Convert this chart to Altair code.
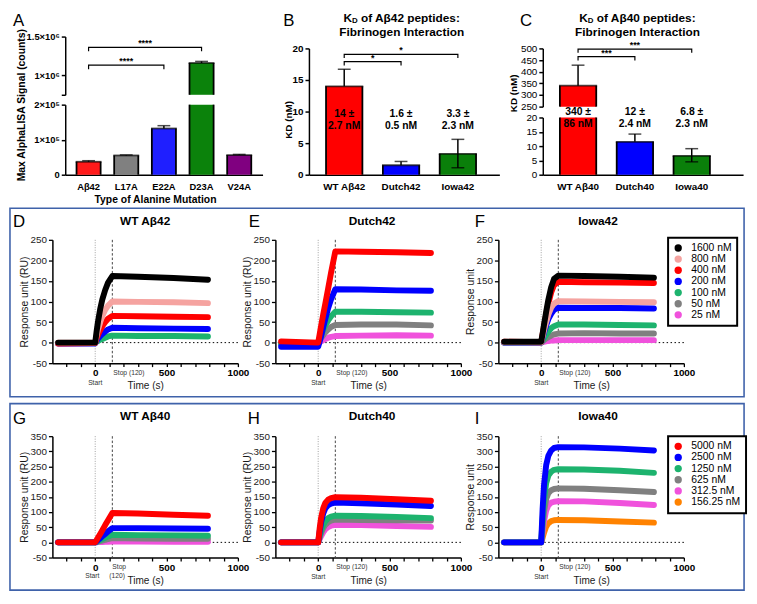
import altair as alt
import pandas as pd

FONT = "Liberation Sans"
BOX_BLUE = "#3f62aa"

# ---------------- Panel A : alanine scan ----------------
a_cats = ["Aβ42", "L17A", "E22A", "D23A", "V24A"]
a_vals = [37000, 55000, 132000, 1160000, 56000]
a_hi = [40000, 56500, 140000, 1180000, 58000]
a_cols = ["#ff1a1a", "#808080", "#1f1fff", "#0b820b", "#800080"]
a_br_from = ["Aβ42", "Aβ42"]
a_br_to = ["D23A", "E22A"]
a_br_top = [1360000, 1131000]
a_br_leg = [1310000, 1080000]
a_br_mark = ["****", "****"]

# ---------------- Panel B : KD Abeta42 ----------------
b_cats = ["WT Aβ42", "Dutch42", "Iowa42"]
b_vals = [14.0, 1.5, 3.3]
b_lo = [14.0, 1.5, 1.1]
b_hi = [16.7, 2.1, 5.6]
b_cols = ["#ff0000", "#0000ff", "#0a7f0a"]
b_lab1 = ["14 ±", "1.6 ±", "3.3 ±"]
b_lab2 = ["2.7 nM", "0.5 nM", "2.3  nM"]
b_br_from = ["WT Aβ42", "WT Aβ42"]
b_br_to = ["Iowa42", "Dutch42"]
b_br_top = [19.05, 17.9]
b_br_leg = [18.5, 17.3]
b_br_mark = ["*", "*"]

# ---------------- Panel C : KD Abeta40 ----------------
c_cats = ["WT Aβ40", "Dutch40", "Iowa40"]
c_vals = [340.0, 11.5, 6.6]
c_lo = [340.0, 11.5, 4.5]
c_hi = [428.0, 14.2, 9.1]
c_cols = ["#ff0000", "#0000ff", "#0a7f0a"]
c_lab1 = ["340 ±", "12 ±", "6.8 ±"]
c_lab2 = ["86 nM", "2.4 nM", "2.3  nM"]
c_br_from = ["WT Aβ40", "WT Aβ40"]
c_br_to = ["Iowa40", "Dutch40"]
c_br_top = [497, 465]
c_br_leg = [481, 448]
c_br_mark = ["***", "***"]

# ---------------- Sensorgrams ----------------
t_pts = [-260, 0, 10, 20, 35, 50, 70, 90, 120, 300, 550, 790]

c42_names = ["1600 nM", "800 nM", "400 nM", "200 nM", "100 nM", "50 nM", "25 nM"]
c42_colors = ["#000000", "#f5a3a0", "#ff0000", "#0000ff", "#1db36e", "#808080", "#f052dc"]
c40_names = ["5000 nM", "2500 nM", "1250 nM", "625 nM", "312.5 nM", "156.25 nM"]
c40_colors = ["#ff0000", "#0000ff", "#1db36e", "#808080", "#f052dc", "#ff8200"]

wt42 = {
    "1600 nM": [0, 0, 28, 52, 82, 105, 128, 146, 162, 160, 157, 153],
    "800 nM": [0, 0, 17, 32, 50, 65, 80, 90, 100, 99, 98, 96],
    "400 nM": [-2, -1, 10, 19, 30, 40, 50, 58, 65, 64, 63, 62],
    "200 nM": [-2, -2, 5, 10, 16, 21, 27, 32, 36, 35, 34, 33],
    "100 nM": [-1, -1, 2, 4, 7, 9, 12, 15, 17, 16, 16, 15],
}
dutch42 = {
    "400 nM": [3, 0, 20, 40, 68, 95, 132, 170, 222, 221, 220, 218],
    "200 nM": [-10, -10, 2, 15, 37, 58, 84, 105, 130, 129, 127, 126],
    "100 nM": [-3, -3, 8, 18, 31, 42, 54, 64, 75, 75, 74, 73],
    "50 nM": [-3, -3, 5, 11, 18, 25, 32, 38, 43, 44, 44, 42],
    "25 nM": [-3, -3, 0, 3, 6, 9, 12, 14, 16, 17, 18, 17],
}
iowa42 = {
    "1600 nM": [2, 2, 22, 44, 75, 104, 135, 155, 163, 162, 160, 158],
    "800 nM": [1, 1, 15, 30, 50, 68, 85, 95, 101, 100, 99, 98],
    "400 nM": [2, 1, 20, 40, 68, 95, 122, 140, 148, 147, 146, 145],
    "200 nM": [0, 0, 12, 25, 42, 57, 70, 80, 85, 84, 84, 83],
    "100 nM": [0, 0, 5, 11, 19, 27, 35, 40, 44, 44, 43, 42],
    "50 nM": [0, 0, 3, 6, 10, 13, 17, 20, 22, 23, 22, 22],
    "25 nM": [0, 0, 1, 2, 3, 4, 5, 5, 6, 6, 6, 6],
}
wt40 = {
    "5000 nM": [0, 0, 8, 16, 28, 40, 57, 73, 97, 95, 91, 88],
    "2500 nM": [0, 0, 4, 8, 14, 20, 28, 36, 47, 47, 46, 45],
    "1250 nM": [0, 0, 2, 4, 8, 11, 15, 19, 25, 24, 23, 22],
    "625 nM": [0, 0, 1, 2, 4, 6, 8, 11, 14, 13, 12, 12],
    "312.5 nM": [0, 0, 0, 1, 1, 1, 2, 2, 3, 3, 2, 2],
}
dutch40 = {
    "5000 nM": [0, 0, 45, 80, 112, 130, 141, 146, 149, 147, 142, 137],
    "2500 nM": [0, 0, 35, 65, 95, 112, 123, 128, 131, 129, 125, 120],
    "1250 nM": [0, 0, 20, 38, 57, 70, 80, 85, 88, 87, 84, 80],
    "625 nM": [0, 0, 15, 30, 47, 58, 67, 72, 75, 74, 73, 72],
    "312.5 nM": [0, 0, 10, 20, 33, 43, 51, 55, 58, 57, 54, 51],
}
iowa40 = {
    "2500 nM": [0, 0, 110, 190, 255, 285, 303, 311, 314, 313, 309, 303],
    "1250 nM": [0, 0, 75, 140, 195, 220, 233, 239, 241, 240, 236, 229],
    "625 nM": [0, 0, 50, 100, 143, 162, 172, 176, 178, 177, 172, 166],
    "312.5 nM": [0, 0, 35, 70, 105, 122, 131, 134, 136, 135, 130, 123],
    "156.25 nM": [0, 0, 15, 32, 52, 63, 70, 73, 74, 73, 69, 65],
}

# ======================================================================
PI = 0.36
EDGE = 1.8


def txt(s, x, y, size, weight="normal", align="center", baseline="middle", color="black"):
    return (alt.Chart(pd.DataFrame({"s": [s]}))
            .mark_text(fontSize=size, fontWeight=weight, align=align, baseline=baseline, color=color)
            .encode(text="s:N", x=alt.value(x), y=alt.value(y)))


def y_axis(values, expr, offset, bold, fs, title=None, tx=None, ty=None, tfs=10.5):
    d = dict(values=values, labelExpr=expr, offset=offset, orient="left", grid=False,
             domainColor="black", domainWidth=1.5, tickColor="black", tickWidth=1.5, tickSize=4,
             labelColor="black", labelFontSize=fs, labelFontWeight="bold" if bold else "normal",
             labelPadding=2, labelFlush=False, labelOverlap=False, labelBound=False)
    if title:
        d.update(title=title, titleX=tx, titleY=ty, titleBaseline="middle", titleAlign="center",
                 titleFontSize=tfs, titleFontWeight="bold", titleColor="black")
    else:
        d["title"] = None
    return alt.Axis(**d)


def x_band(cats, rng, fs, po, align, title=None, tx=None, ty=None):
    d = dict(labelAngle=0, ticks=False, tickSize=0, labelPadding=7, labelFontSize=fs,
             labelFontWeight="bold", labelColor="black", domainColor="black", domainWidth=1.5,
             grid=False, labelLimit=200)
    if title:
        d.update(title=title, titleX=tx, titleY=ty, titleBaseline="middle", titleFontSize=10.5,
                 titleFontWeight="bold", titleColor="black")
    else:
        d["title"] = None
    scale = alt.Scale(domain=cats, range=rng, paddingInner=PI, paddingOuter=po, align=align)
    axis = alt.Axis(**d)

    def f(bp=None):
        if bp is None:
            return alt.X("cat:N", scale=scale, axis=axis)
        return alt.X("cat:N", scale=scale, axis=axis, bandPosition=bp)
    step = (rng[1] - rng[0]) / (len(cats) - PI + 2 * po)
    return f, step, step * (1 - PI)


def y_maker(dom, rng, axis):
    def f(field):
        return alt.Y(f"{field}:Q", scale=alt.Scale(domain=dom, range=rng, clamp=True, nice=False, zero=False),
                     axis=axis)
    return f


def bar_frames(cats, vals, lo, hi, cols):
    df = pd.DataFrame({"cat": cats, "val": vals, "lo": lo, "hi": hi, "col": cols, "base": [0] * len(cats)})
    caps = []
    for c, v, l, h in zip(cats, vals, lo, hi):
        caps.append({"cat": c, "cy": h})
        if l < v:
            caps.append({"cat": c, "cy": l})
    return df, pd.DataFrame(caps)


def bar_group(df, capdf, Xf, bw, yenc, bfilt=None, topfilt=None, efilt=None, cfilt=None):
    X = Xf()
    bars = alt.Chart(df).mark_bar(strokeWidth=0).encode(
        x=X, y=yenc("val"), y2=alt.Y2("base"), color=alt.Color("col:N", scale=None))
    left = alt.Chart(df).mark_rule(color="black", strokeWidth=EDGE).encode(
        x=Xf(0), y=yenc("val"), y2=alt.Y2("base"))
    right = alt.Chart(df).mark_rule(color="black", strokeWidth=EDGE).encode(
        x=Xf(1), y=yenc("val"), y2=alt.Y2("base"))
    top = alt.Chart(df).mark_tick(color="black", thickness=EDGE, size=bw + EDGE).encode(x=X, y=yenc("val"))
    err = alt.Chart(df).mark_rule(color="black", strokeWidth=1.5).encode(x=X, y=yenc("lo"), y2=alt.Y2("hi"))
    cap = alt.Chart(capdf).mark_tick(color="black", thickness=1.5, size=13).encode(x=X, y=yenc("cy"))
    if bfilt:
        bars = bars.transform_filter(bfilt)
        left = left.transform_filter(bfilt)
        right = right.transform_filter(bfilt)
    if topfilt:
        top = top.transform_filter(topfilt)
    if efilt:
        err = err.transform_filter(efilt)
    if cfilt:
        cap = cap.transform_filter(cfilt)
    return [bars, err, left, right, top, cap]


def brackets(cats, step, Xf, yenc, frm, to, top, leg, marks):
    X = Xf()
    rows = []
    for i, (f, t, yt, yl) in enumerate(zip(frm, to, top, leg)):
        rows += [dict(b=i, cat=f, y=yl, o=0), dict(b=i, cat=f, y=yt, o=1),
                 dict(b=i, cat=t, y=yt, o=2), dict(b=i, cat=t, y=yl, o=3)]
    lines = alt.Chart(pd.DataFrame(rows)).mark_line(color="black", strokeWidth=1.2).encode(
        x=X, y=yenc("y"), detail="b:N", order="o:Q")
    out = [lines]
    for f, t, yt, m in zip(frm, to, top, marks):
        i1, i2 = cats.index(f), cats.index(t)
        mid = (i1 + i2) / 2
        base = int(mid)
        dx = (mid - base) * step
        out.append(alt.Chart(pd.DataFrame({"cat": [cats[base]], "y": [yt], "m": [m]}))
                   .mark_text(fontSize=9, fontWeight="bold", baseline="alphabetic", dx=dx, dy=-1)
                   .encode(x=X, y=yenc("y"), text="m:N"))
    return out


def kd_title(cx, y1, y2, pep):
    fs = 12
    left = cx - 59
    return [
        txt("K", left, y1, fs, "bold", align="left"),
        txt("D", left + 8.7, y1 + 3, 8.0, "bold", align="left"),
        txt(f"of {pep} peptides:", left + 17.8, y1, fs, "bold", align="left"),
        txt("Fibrinogen Interaction", cx, y2, fs, "bold"),
    ]


LET_Y = -15.5
T1, T2 = -19, -4.8

# ---------------- Panel A ----------------
A_R = [13, 213]
XAf, stepA, bwA = x_band(a_cats, A_R, 9.5, 0.3, 0.5, "Type of Alanine Mutation", 104, 25)
dfA, capA = bar_frames(a_cats, a_vals, a_vals, a_hi, a_cols)
yAU = y_maker([750000, 1500000], [59, 0],
              y_axis([750000, 1000000, 1500000],
                     "datum.value == 1500000 ? '1.5×10⁶' : datum.value == 1000000 ? '1×10⁶' : ''",
                     -13, True, 9.5))
yAL = y_maker([0, 200000], [140, 69],
              y_axis([0, 100000, 200000],
                     "datum.value == 0 ? '0' : datum.value == 100000 ? '1×10⁵' : '2×10⁵'",
                     -13, True, 9.5, "Max AlphaLISA Signal (counts)", -44, 69))
upperA = alt.layer(*(bar_group(dfA, capA, XAf, bwA, yAU, "datum.val > 750000", "datum.val > 750000",
                               "datum.hi > 750000", "datum.cy > 750000")
                     + brackets(a_cats, stepA, XAf, yAU, a_br_from, a_br_to, a_br_top, a_br_leg, a_br_mark)))
lowerA = alt.layer(*bar_group(dfA, capA, XAf, bwA, yAL, None, "datum.val < 200000",
                              "datum.hi < 200000", "datum.cy < 200000"))
panelA = alt.layer(upperA, lowerA, txt("A", -40, LET_Y, 17, align="left")).resolve_scale(
    y="independent").properties(width=224, height=140)

# ---------------- Panel B ----------------
B_R = [34, 227]
XBf, stepB, bwB = x_band(b_cats, B_R, 10, 0.3555, 0.423)
dfB, capB = bar_frames(b_cats, b_vals, b_lo, b_hi, b_cols)
dfB["l1"] = b_lab1
dfB["l2"] = b_lab2
yB = y_maker([0, 20], [140, 12],
             y_axis([0, 5, 10, 15, 20], "'' + datum.value", -34, True, 10, "KD (nM)", -21, 84, 10))
labB = [alt.Chart(dfB).mark_text(fontSize=10.5, fontWeight="bold").encode(x=XBf(), y=alt.value(79), text="l1:N"),
        alt.Chart(dfB).mark_text(fontSize=10.5, fontWeight="bold").encode(x=XBf(), y=alt.value(91), text="l2:N")]
panelB = alt.layer(*(bar_group(dfB, capB, XBf, bwB, yB)
                     + brackets(b_cats, stepB, XBf, yB, b_br_from, b_br_to, b_br_top, b_br_leg, b_br_mark)
                     + labB + kd_title(128, T1, T2, "Aβ42")
                     + [txt("B", 8, LET_Y, 17, align="left")])).properties(width=224, height=140)

# ---------------- Panel C ----------------
C_R = [45, 248]
XCf, stepC, bwC = x_band(c_cats, C_R, 10, 0.442, 0.34)
dfC, capC = bar_frames(c_cats, c_vals, c_lo, c_hi, c_cols)
dfC["l1"] = c_lab1
dfC["l2"] = c_lab2
yCU = y_maker([250, 500], [71, 12],
              y_axis([250, 300, 350, 400, 450, 500], "'' + datum.value", -45, False, 10,
                     "KD (nM)", -30, 57, 10))
yCL = y_maker([0, 20], [140, 82],
              y_axis([0, 5, 10, 15, 20], "'' + datum.value", -45, False, 10))
upperC = alt.layer(*(bar_group(dfC, capC, XCf, bwC, yCU, "datum.val > 250", "datum.val > 250",
                               "datum.hi > 250", "datum.cy > 250")
                     + brackets(c_cats, stepC, XCf, yCU, c_br_from, c_br_to, c_br_top, c_br_leg, c_br_mark)))
lowerC = alt.layer(*bar_group(dfC, capC, XCf, bwC, yCL, None, "datum.val < 20", "datum.hi < 20", "datum.cy < 20"))
labC = [alt.Chart(dfC).mark_text(fontSize=10.5, fontWeight="bold").encode(x=XCf(), y=alt.value(76.5), text="l1:N"),
        alt.Chart(dfC).mark_text(fontSize=10.5, fontWeight="bold").encode(x=XCf(), y=alt.value(89), text="l2:N")]
panelC = alt.layer(upperC, lowerC, *labC, *kd_title(141, T1, T2, "Aβ40"),
                   txt("C", 22, LET_Y, 17, align="left")).resolve_scale(
    y="independent").properties(width=224, height=140)

# ---------------- Sensorgram panels ----------------
SW = 188


def sensor_panel(series, names, colors, title, title_x, letter, letter_x, ymax, ylabel,
                 plot_h, pad, stacked_stop=False, legend_y=None, box=None):
    order = [n for n in names if n in series][::-1]
    rows = []
    for n in order:
        col = colors[names.index(n)]
        for t, v in zip(t_pts, series[n]):
            rows.append({"t": t, "ru": v, "s": n, "col": col})
    df = pd.DataFrame(rows)
    bottom = pad + plot_h
    xax = alt.Axis(values=list(range(-200, 1001, 100)),
                   labelExpr="(datum.value == 0 || datum.value == 500 || datum.value == 1000) ? '' + datum.value : ''",
                   title="Time (s)", titleX=SW / 2, titleY=23, titleBaseline="middle", titleFontSize=10.2,
                   titleFontWeight="normal", titleColor="#1a1a1a", labelFontSize=10, labelFontWeight="bold",
                   labelColor="black", labelPadding=1.5, labelFlush=False, labelOverlap=False, labelBound=False,
                   tickSize=3.5, tickWidth=1.3, tickColor="black", domainColor="black", domainWidth=1.5,
                   grid=False)
    yax = alt.Axis(values=list(range(-50, ymax + 1, 50)), labelExpr="'' + datum.value", title=ylabel,
                   titleX=-28, titleY=pad + plot_h / 2, titleBaseline="middle", titleAlign="center",
                   titleFontSize=10.5, titleFontWeight="normal", titleColor="#1a1a1a", labelFontSize=10,
                   labelColor="#222222", labelPadding=2, labelFlush=False, labelOverlap=False,
                   labelBound=False, tickSize=4, tickWidth=1.3, tickColor="black", domainColor="black",
                   domainWidth=1.5, grid=False)
    X = alt.X("t:Q", scale=alt.Scale(domain=[-300, 1000], range=[0, SW], nice=False, zero=False), axis=xax)
    Y = alt.Y("ru:Q", scale=alt.Scale(domain=[-50, ymax], range=[bottom, pad], nice=False, zero=False),
              axis=yax)
    layers = []
    if box is not None:
        layers.append(alt.Chart(pd.DataFrame({"k": [0]})).mark_rect(
            fillOpacity=0, stroke=BOX_BLUE, strokeWidth=1.6).encode(
            x=alt.value(box[0]), x2=alt.value(box[1]), y=alt.value(box[2]), y2=alt.value(box[3])))
    layers.append(alt.Chart(pd.DataFrame({"ru": [0]})).mark_rule(
        color="black", strokeDash=[1.5, 2.5], strokeWidth=1).encode(y=Y))
    layers.append(alt.Chart(pd.DataFrame({"t": [0], "ru": [ymax], "ru2": [-50]})).mark_rule(
        color="#a0a0a0", strokeDash=[1, 1.5], strokeWidth=1).encode(x=X, y=Y, y2=alt.Y2("ru2")))
    layers.append(alt.Chart(pd.DataFrame({"t": [120], "ru": [ymax], "ru2": [-50]})).mark_rule(
        color="#444444", strokeDash=[2.5, 2], strokeWidth=1).encode(x=X, y=Y, y2=alt.Y2("ru2")))
    layers.append(alt.Chart(df).mark_line(strokeWidth=6, strokeCap="round", strokeJoin="round").encode(
        x=X, y=Y, color=alt.Color("col:N", scale=None), detail="s:N"))
    if stacked_stop:
        layers.append(alt.Chart(pd.DataFrame({"t": [120], "s": ["Stop"]})).mark_text(
            fontSize=6.8, align="left", baseline="middle", color="#333333").encode(
            x=X, y=alt.value(bottom + 10), text="s:N"))
        layers.append(alt.Chart(pd.DataFrame({"t": [120], "s": ["(120)"]})).mark_text(
            fontSize=6.8, align="left", baseline="middle", color="#333333", dx=-3).encode(
            x=X, y=alt.value(bottom + 19), text="s:N"))
        layers.append(alt.Chart(pd.DataFrame({"t": [0], "s": ["Start"]})).mark_text(
            fontSize=6.8, align="center", baseline="middle", color="#333333", dx=-3).encode(
            x=X, y=alt.value(bottom + 19), text="s:N"))
    else:
        layers.append(alt.Chart(pd.DataFrame({"t": [120], "s": ["Stop (120)"]})).mark_text(
            fontSize=6.8, align="left", baseline="middle", color="#333333", dx=1).encode(
            x=X, y=alt.value(bottom + 10), text="s:N"))
        layers.append(alt.Chart(pd.DataFrame({"t": [0], "s": ["Start"]})).mark_text(
            fontSize=6.8, align="center", baseline="middle", color="#333333").encode(
            x=X, y=alt.value(bottom + 20), text="s:N"))
    layers.append(txt(title, title_x, pad - 19 if pad == 0 else pad - 20, 12, "bold"))
    layers.append(txt(letter, letter_x, pad - 18 if pad == 0 else pad - 17, 17, align="left"))
    if legend_y is not None:
        layers.append(alt.Chart(df).mark_circle(opacity=1).encode(
            x=X, y=Y,
            fill=alt.Fill("s:N", scale=alt.Scale(domain=names, range=colors),
                          legend=alt.Legend(orient="none", legendX=172, legendY=legend_y, title=None,
                                            fillColor="white", strokeColor="black", padding=5,
                                            symbolType="circle", symbolSize=55, symbolStrokeWidth=0,
                                            symbolOpacity=1, labelFontSize=10.5, labelColor="black",
                                            labelOffset=8, rowPadding=0.3))).transform_filter("false"))
    return alt.layer(*layers).properties(width=SW, height=bottom)


H2, H3, PAD3 = 125, 123, 8
panelD = sensor_panel(wt42, c42_names, c42_colors, "WT Aβ42", 94, "D", -40, 250, "Response unit (RU)",
                      H2, 0, box=(-43, 701, -32, H2 + 34))
panelE = sensor_panel(dutch42, c42_names, c42_colors, "Dutch42", 98, "E", -27, 250, "Response unit (RU)",
                      H2, 0)
panelF = sensor_panel(iowa42, c42_names, c42_colors, "Iowa42", 101, "F", -24, 250, "Response unit",
                      H2, 0, legend_y=-2)
panelG = sensor_panel(wt40, c40_names, c40_colors, "WT Aβ40", 94, "G", -40, 350, "Response unit (RU)",
                      H3, PAD3, stacked_stop=True, box=(-43, 701, PAD3 - 33, PAD3 + H3 + 33))
panelH = sensor_panel(dutch40, c40_names, c40_colors, "Dutch40", 98, "H", -28, 350, "Response unit (RU)",
                      H3, PAD3)
panelI = sensor_panel(iowa40, c40_names, c40_colors, "Iowa40", 101, "I", -24, 350, "Response unit",
                      H3, PAD3, legend_y=PAD3)

chart = alt.concat(panelA, panelB, panelC, panelD, panelE, panelF, panelG, panelH, panelI,
                   columns=3, spacing={"row": 66, "column": 2}, bounds="flush", align="each")
chart = chart.resolve_scale(fill="independent").resolve_legend(fill="independent")
chart = chart.properties(padding={"left": 1, "top": 0, "right": 2, "bottom": 0})
chart = chart.configure(font=FONT).configure_view(stroke=None).configure_legend(strokeWidth=2)

chart.save("out.html", embed_options={"renderer": "svg", "actions": False})
